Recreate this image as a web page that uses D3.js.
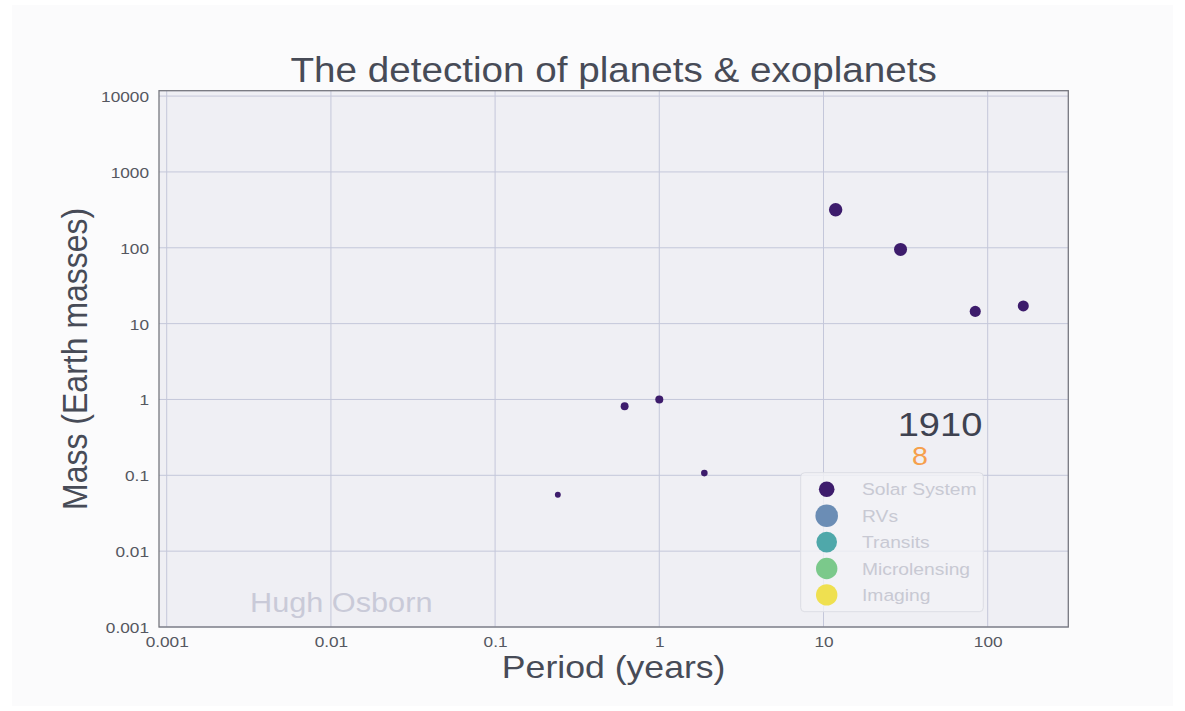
<!DOCTYPE html>
<html>
<head>
<meta charset="utf-8">
<script src="https://cdn.jsdelivr.net/npm/d3@7"></script>
<style>
  html, body { margin: 0; padding: 0; background: #ffffff; }
  svg { display: block; }
  text { font-family: "Liberation Sans", Arial, Helvetica, sans-serif; }
</style>
</head>
<body>
<svg id="chart" width="1185" height="711"></svg>
<script>
// Solar System planets known by 1910
const planetNames = ["Mercury", "Venus", "Earth", "Mars", "Jupiter", "Saturn", "Uranus", "Neptune"];
const periodYears = [0.241, 0.615, 1.0, 1.881, 11.86, 29.46, 84.01, 164.8];
const massEarth   = [0.0553, 0.815, 1.0, 0.107, 317.8, 95.2, 14.5, 17.1];
const radiusEarth = [0.383, 0.949, 1.0, 0.532, 11.21, 9.45, 4.01, 3.88];

const xTicks = [0.001, 0.01, 0.1, 1, 10, 100];
const xTickLabels = ["0.001", "0.01", "0.1", "1", "10", "100"];
const yTicks = [0.001, 0.01, 0.1, 1, 10, 100, 1000, 10000];
const yTickLabels = ["0.001", "0.01", "0.1", "1", "10", "100", "1000", "10000"];

const methods = ["Solar System", "RVs", "Transits", "Microlensing", "Imaging"];
const methodColors = ["#3d1c6c", "#6b8db5", "#4fa8aa", "#7bc98b", "#efe050"];

const yearLabel = "1910";
const planetCount = planetNames.length;

const titleText = "The detection of planets & exoplanets";
const xLabel = "Period (years)";
const yLabel = "Mass (Earth masses)";
const credit = "Hugh Osborn";

// ---- layout ----
const W = 1185, H = 711;
const plot = { left: 159, right: 1068.3, top: 90.7, bottom: 627 };
const SX = 1.12; // horizontal text stretch of the figure

const svg = d3.select("#chart");

svg.append("rect").attr("x", 12).attr("y", 5).attr("width", W - 24).attr("height", H - 10)
  .attr("fill", "#fbfbfc");

const x = d3.scaleLog()
  .domain([Math.pow(10, -3.047), Math.pow(10, 2.491)])
  .range([plot.left, plot.right]);
const y = d3.scaleLog()
  .domain([0.001, Math.pow(10, 4.071)])
  .range([plot.bottom, plot.top]);
const r = d3.scaleLog().domain([0.383, 11.21]).range([2.95, 6.7]);

function stretched(sel, px, py, extra) {
  return sel.attr("transform", `translate(${px},${py}) scale(${SX},1)` + (extra || ""));
}

// plot background
svg.append("rect")
  .attr("x", plot.left).attr("y", plot.top)
  .attr("width", plot.right - plot.left).attr("height", plot.bottom - plot.top)
  .attr("fill", "#efeff4");

// grid
const grid = svg.append("g").attr("stroke", "#c4c7da").attr("stroke-width", 1);
grid.selectAll("line.gx").data(xTicks).join("line").attr("class", "gx")
  .attr("x1", d => x(d)).attr("x2", d => x(d))
  .attr("y1", plot.top).attr("y2", plot.bottom);
grid.selectAll("line.gy").data(yTicks).join("line").attr("class", "gy")
  .attr("y1", d => y(d)).attr("y2", d => y(d))
  .attr("x1", plot.left).attr("x2", plot.right);

// axes (labels only, no tick marks)
const xAxis = d3.axisBottom(x).tickValues(xTicks).tickSize(0).tickPadding(0)
  .tickFormat((d, i) => xTickLabels[i]);
const yAxis = d3.axisLeft(y).tickValues(yTicks).tickSize(0).tickPadding(0)
  .tickFormat((d, i) => yTickLabels[i]);

const gx = svg.append("g").attr("transform", `translate(0,${plot.bottom})`).call(xAxis);
const gy = svg.append("g").attr("transform", `translate(${plot.left},0)`).call(yAxis);
[gx, gy].forEach(g => g.select(".domain").remove());

gx.selectAll(".tick text")
  .attr("fill", "#555760").attr("font-size", 15.4)
  .attr("dy", null).attr("y", null)
  .each(function () {
    d3.select(this).attr("text-anchor", "middle")
      .attr("transform", `translate(0,19.5) scale(${SX},1)`);
  });
gy.selectAll(".tick text")
  .attr("fill", "#555760").attr("font-size", 15.4)
  .attr("dy", null).attr("x", null)
  .each(function () {
    d3.select(this).attr("text-anchor", "end")
      .attr("transform", `translate(-10,5.5) scale(${SX},1)`);
  });

// frame
svg.append("rect")
  .attr("x", plot.left).attr("y", plot.top)
  .attr("width", plot.right - plot.left).attr("height", plot.bottom - plot.top)
  .attr("fill", "none").attr("stroke", "#76777f").attr("stroke-width", 1.3);

// credit
stretched(svg.append("text"), 250, 612.3)
  .attr("font-size", 27.4).attr("fill", "#c9cad8").text(credit);

// planets
const pts = planetNames.map((n, i) => ({ n, p: periodYears[i], m: massEarth[i], rad: radiusEarth[i] }));
svg.append("g").selectAll("circle").data(pts).join("circle")
  .attr("cx", d => x(d.p)).attr("cy", d => y(d.m)).attr("r", d => r(d.rad))
  .attr("fill", methodColors[0]);

// year and count
stretched(svg.append("text"), 940, 436)
  .attr("text-anchor", "middle").attr("font-size", 34).attr("fill", "#3e4250").text(yearLabel);
stretched(svg.append("text"), 920, 465)
  .attr("text-anchor", "middle").attr("font-size", 25.6).attr("fill", "#f6a04c").text(String(planetCount));

// legend
const lg = svg.append("g");
lg.append("rect").attr("x", 800.7).attr("y", 472.7).attr("width", 182.6).attr("height", 139)
  .attr("rx", 4).attr("fill", "#f2f2f6").attr("fill-opacity", 0.8)
  .attr("stroke", "#dcdde4").attr("stroke-width", 1);
const rowY = d3.scaleLinear().domain([0, 1]).range([489.3, 515.7]);
const legR = [7.8, 11.3, 10.3, 10.7, 10.7];
methods.forEach((m, i) => {
  lg.append("circle").attr("cx", 826.7).attr("cy", rowY(i)).attr("r", legR[i])
    .attr("fill", methodColors[i]);
  stretched(lg.append("text"), 862, rowY(i) + 6)
    .attr("font-size", 17.2).attr("fill", "#c8c9d3").text(m);
});

// title and axis labels
stretched(svg.append("text"), (plot.left + plot.right) / 2, 82)
  .attr("text-anchor", "middle").attr("font-size", 34.5).attr("fill", "#474b57").text(titleText);
stretched(svg.append("text"), (plot.left + plot.right) / 2, 678)
  .attr("text-anchor", "middle").attr("font-size", 31.8).attr("fill", "#474b57").text(xLabel);
svg.append("text")
  .attr("transform", `translate(87,${(plot.top + plot.bottom) / 2}) scale(${SX},1) rotate(-90)`)
  .attr("text-anchor", "middle").attr("font-size", 32).attr("fill", "#474b57").text(yLabel);
</script>
</body>
</html>
